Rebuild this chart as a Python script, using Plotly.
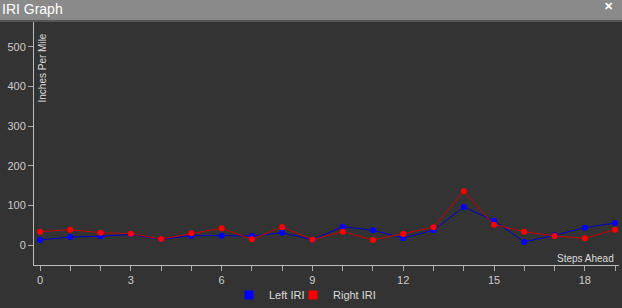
import plotly.graph_objects as go

steps = list(range(20))
left_iri = [12.6, 20.2, 21.9, 26.9, 14.3, 23.6, 23.6, 22.7, 31, 13.5,
            46.3, 37, 17.7, 37, 96, 61.4, 7.6, 24.5, 43.8, 55.6]
right_iri = [33.6, 38.7, 31, 28.6, 15.2, 29.4, 42, 14.3, 45.4, 13.5,
             33.6, 12.6, 27.8, 44.6, 136, 51.3, 33.6, 22.7, 16.9, 38.7]
x_ticktext = [str(s) if s % 3 == 0 else "" for s in steps]
y_ticks = [0, 100, 200, 300, 400, 500]

W, H = 622, 308
ml, mr, mt, mb = 34, 3, 22, 43
ph = H - mt - mb
pw = W - ml - mr

def py(pix):
    return (H - mb - pix) / ph

def px(pix):
    return (pix - ml) / pw

fig = go.Figure()
fig.add_trace(go.Scatter(x=steps, y=left_iri, name="Left IRI", mode="lines+markers",
                         line=dict(color="#0000cc", width=1), showlegend=False,
                         marker=dict(color="#0000ff", size=6, symbol="circle")))
fig.add_trace(go.Scatter(x=steps, y=right_iri, name="Right IRI", mode="lines+markers",
                         line=dict(color="#cc0000", width=1), showlegend=False,
                         marker=dict(color="#ff0000", size=6, symbol="circle")))
# legend entries (square swatches)
fig.add_trace(go.Scatter(x=[None], y=[None], name="Left IRI", mode="markers", legend="legend",
                         marker=dict(color="#0000ff", size=9, symbol="square")))
fig.add_trace(go.Scatter(x=[None], y=[None], name="Right IRI", mode="markers", legend="legend2",
                         marker=dict(color="#ff0000", size=9, symbol="square")))

leg_common = dict(orientation="h", yanchor="middle", y=py(295), xanchor="left",
                  font=dict(size=11, color="#dddddd"), itemwidth=30,
                  bgcolor="rgba(0,0,0,0)", borderwidth=0)

fig.update_layout(
    width=W, height=H,
    margin=dict(l=ml, r=mr, t=mt, b=mb, pad=0, autoexpand=False),
    paper_bgcolor="#333333", plot_bgcolor="#333333",
    font=dict(family="Liberation Sans, Arial, sans-serif", color="#cccccc", size=11),
    showlegend=True,
    legend=dict(x=px(229), **leg_common),
    legend2=dict(x=px(293), **leg_common),
    xaxis=dict(range=[-0.2, 19.13], tickmode="array", tickvals=steps, ticktext=x_ticktext,
               showgrid=False, zeroline=False, showline=True, linecolor="#bbbbbb", linewidth=1,
               ticks="outside", ticklen=5, tickcolor="#aaaaaa", tickfont=dict(size=11, color="#cccccc"),
               fixedrange=True),
    yaxis=dict(range=[-50.5, 563], tickmode="array", tickvals=y_ticks,
               showgrid=False, zeroline=False, showline=True, linecolor="#bbbbbb", linewidth=1,
               ticks="outside", ticklen=5, tickcolor="#aaaaaa", tickfont=dict(size=11, color="#cccccc"),
               fixedrange=True),
    shapes=[
        dict(type="rect", xref="paper", yref="paper", x0=px(0), x1=px(W),
             y0=py(20), y1=py(0), fillcolor="#8a8a8a", line=dict(width=0), layer="above"),
        dict(type="rect", xref="paper", yref="paper", x0=px(0), x1=px(W),
             y0=py(22), y1=py(20), fillcolor="#555555", line=dict(width=0), layer="above"),
    ],
    annotations=[
        dict(text="IRI Graph", xref="paper", yref="paper", x=px(0),
             y=py(9), xanchor="left", yanchor="middle", showarrow=False,
             font=dict(size=14, color="#ffffff")),
        dict(text="<b>✕</b>", xref="paper", yref="paper", x=px(608),
             y=py(6), xanchor="center", yanchor="middle", showarrow=False,
             font=dict(size=11, color="#ffffff")),
        dict(text="Inches Per Mile", xref="paper", yref="paper", x=px(42),
             y=py(32), xanchor="center", yanchor="top", textangle=-90, showarrow=False,
             font=dict(size=10, color="#dddddd")),
        dict(text="Steps Ahead", xref="paper", yref="paper", x=px(616),
             y=py(258), xanchor="right", yanchor="middle", showarrow=False,
             font=dict(size=10, color="#dddddd")),
    ],
)

fig.write_html("out.html")
